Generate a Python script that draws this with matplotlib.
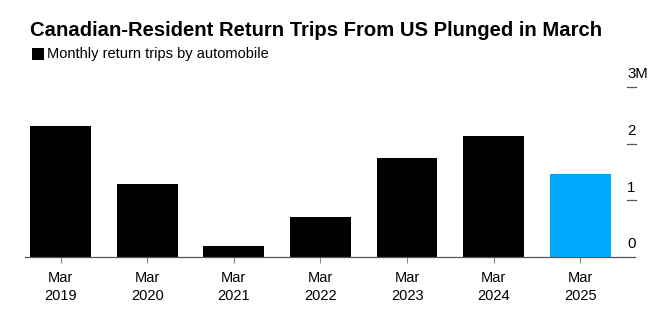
import matplotlib
matplotlib.use("Agg")
import matplotlib.pyplot as plt
from matplotlib.patches import Rectangle
import matplotlib.transforms as mtransforms

categories = ["Mar\n2019", "Mar\n2020", "Mar\n2021", "Mar\n2022", "Mar\n2023", "Mar\n2024", "Mar\n2025"]
values = [2.32, 1.28, 0.19, 0.70, 1.74, 2.14, 1.46]  # millions
colors = ["#000000"] * 6 + ["#00AAFF"]
ytick_vals = [0, 1, 2, 3]
ytick_labels = ["0", "1", "2", "3M"]

plt.rcParams['font.family'] = ['Liberation Sans', 'DejaVu Sans']

fig = plt.figure(figsize=(6.68, 3.26), dpi=100)
ax = fig.add_axes([25/668, 1-257/326, 610/668, 170/326])

x = list(range(len(categories)))
ax.bar(x, values, width=0.70, color=colors, zorder=2)
ax.set_xlim(-0.41, 6.63)
ax.set_ylim(0, 3)

for s in ["top", "right", "left"]:
    ax.spines[s].set_visible(False)
ax.spines["bottom"].set_color("#555555")
ax.spines["bottom"].set_linewidth(0.9)
ax.set_yticks([])
ax.set_xticks(x)
ax.set_xticklabels(categories, fontsize=10.5, linespacing=1.35)
ax.tick_params(axis="x", length=4, color="#888888", width=0.8, pad=6)

trans = mtransforms.blended_transform_factory(ax.transAxes, ax.transData)
for v, lab in zip(ytick_vals, ytick_labels):
    if v > 0:
        ax.plot([0.987, 1.002], [v, v], transform=trans, color="#555555", lw=0.9, clip_on=False)
    ax.text(0.987, v + 0.1, lab, transform=trans, ha="left", va="bottom", fontsize=10.8, color="#000000")

fig.text(30/668, 1-31/326, "Canadian-Resident Return Trips From US Plunged in March",
         fontsize=14.6, fontweight="bold", ha="left", va="center")
fig.patches.append(Rectangle((32/668, 1-60/326), 12/668, 12/326, transform=fig.transFigure,
                             facecolor="#000000", edgecolor="none"))
fig.text(47/668, 1-54/326, "Monthly return trips by automobile", fontsize=10.5, ha="left", va="center")

fig.savefig("out.png", dpi=100)
